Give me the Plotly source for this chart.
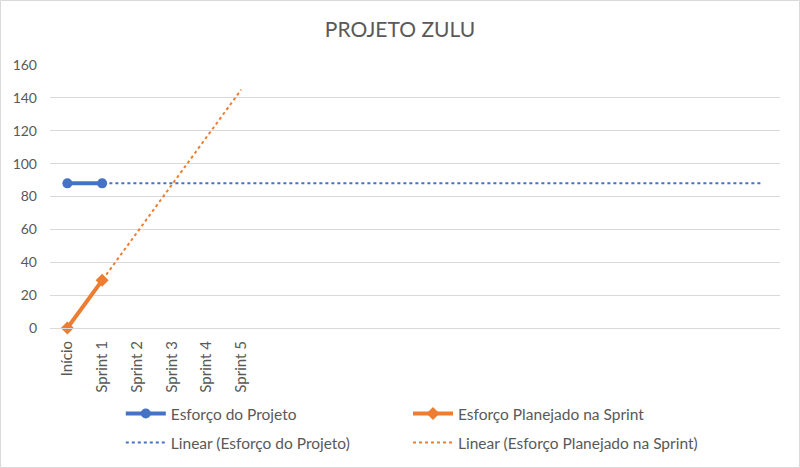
import numpy as np
import plotly.graph_objects as go

# categorias do eixo x (as posições vazias depois da Sprint 5 também contam)
categorias = ["Início", "Sprint 1", "Sprint 2", "Sprint 3", "Sprint 4", "Sprint 5"]
n_categorias = 21

esforco_projeto = [88, 88]
esforco_planejado = [0, 29]

# até onde a linha de tendência do Excel vai (índice de categoria)
fim_tendencia_projeto = 20
fim_tendencia_planejado = 5

AZUL = "#4472C4"
LARANJA = "#ED7D31"
CINZA = "#595959"


def tendencia(valores, fim):
    x = np.arange(len(valores))
    a, b = np.polyfit(x, valores, 1)
    xs = np.arange(0, fim + 1)
    return xs, a * xs + b


fig = go.Figure()

fig.add_trace(go.Scatter(
    x=list(range(len(esforco_projeto))), y=esforco_projeto,
    mode="lines+markers", name="Esforço do Projeto",
    line=dict(color=AZUL, width=4),
    marker=dict(symbol="circle", size=10, color=AZUL),
    cliponaxis=False, legend="legend",
))
fig.add_trace(go.Scatter(
    x=list(range(len(esforco_planejado))), y=esforco_planejado,
    mode="lines+markers", name="Esforço Planejado na Sprint",
    line=dict(color=LARANJA, width=4),
    marker=dict(symbol="diamond", size=10, color=LARANJA),
    cliponaxis=False, legend="legend2",
))

tx, ty = tendencia(esforco_projeto, fim_tendencia_projeto)
fig.add_trace(go.Scatter(
    x=tx, y=ty, mode="lines", name="Linear (Esforço do Projeto)",
    line=dict(color=AZUL, width=2, dash="dot"), legend="legend3",
))
tx, ty = tendencia(esforco_planejado, fim_tendencia_planejado)
fig.add_trace(go.Scatter(
    x=tx, y=ty, mode="lines", name="Linear (Esforço Planejado na Sprint)",
    line=dict(color=LARANJA, width=2, dash="dot"), legend="legend4",
))

# uma legenda por item, em grade 2x2 como no Excel
legenda = dict(orientation="h", xref="container", yref="container",
               xanchor="left", yanchor="middle",
               font=dict(size=15.5, color=CINZA),
               itemwidth=40, bgcolor="rgba(0,0,0,0)")
col1, col2 = 0.151, 0.51
lin1, lin2 = 1 - 414 / 468, 1 - 443 / 468

fig.update_layout(
    width=800, height=468, showlegend=True,
    paper_bgcolor="white", plot_bgcolor="white",
    font=dict(family="Lato, Liberation Sans, sans-serif", color=CINZA, size=14),
    title=dict(text="PROJETO ZULU", x=0.5, xanchor="center",
               y=1 - 30 / 468, yanchor="middle",
               font=dict(size=21, color=CINZA)),
    margin=dict(l=50, r=20, t=65, b=140, autoexpand=False),
    legend=dict(legenda, x=col1, y=lin1),
    legend2=dict(legenda, x=col2, y=lin1),
    legend3=dict(legenda, x=col1, y=lin2),
    legend4=dict(legenda, x=col2, y=lin2),
    xaxis=dict(range=[-0.5, n_categorias - 0.5],
               tickvals=list(range(len(categorias))), ticktext=categorias,
               tickangle=-90, showgrid=False, zeroline=False,
               showline=True, linecolor="#D9D9D9", linewidth=1,
               ticks="", ticklabelstandoff=6, automargin=False,
               tickfont=dict(size=15, color=CINZA)),
    yaxis=dict(range=[0, 160], dtick=20, showgrid=True, gridcolor="#D9D9D9",
               zeroline=False, showline=False, ticks="", ticklabelstandoff=12,
               automargin=False, tickfont=dict(size=14, color=CINZA)),
    shapes=[dict(type="rect", xref="paper", yref="paper",
                 x0=-49.5 / 730, x1=1 + 19.5 / 730,
                 y0=-139.5 / 263, y1=1 + 64.5 / 263,
                 line=dict(color="#D9D9D9", width=1))],
)

fig.write_html("out.html", config={"displayModeBar": False},
               post_script="document.body.style.margin = '0';")
